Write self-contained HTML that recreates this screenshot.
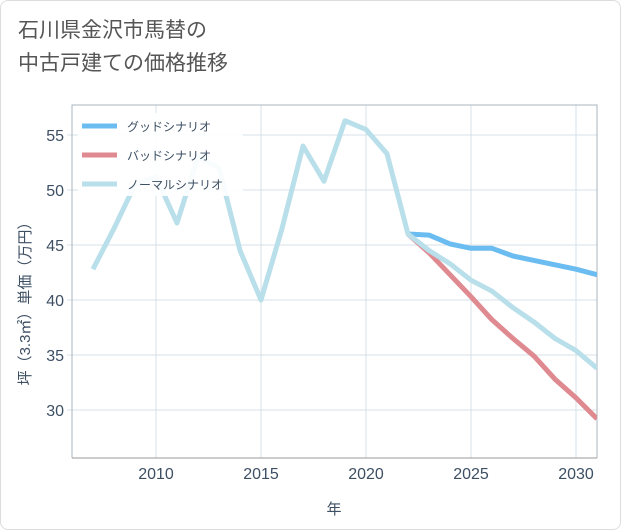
<!DOCTYPE html>
<html><head><meta charset="utf-8"><style>
html,body{margin:0;padding:0;background:#fff;}
body{width:621px;height:530px;overflow:hidden;font-family:"Liberation Sans","Noto Sans CJK JP",sans-serif;}
.card{position:absolute;left:0;top:0;width:619px;height:528px;border:1px solid #ddd;border-radius:8px;background:#fff;}
.title{position:absolute;left:18px;top:14px;font-size:21px;line-height:33px;color:#555;}
svg{position:absolute;left:0;top:0;}
</style></head><body>
<div class="card"></div>
<div class="title">石川県金沢市馬替の<br>中古戸建ての価格推移</div>
<svg id="chart" width="621" height="530"></svg>
<script>
const years=[2007,2008,2009,2010,2011,2012,2013,2014,2015,2016,2017,2018,2019,2020,2021,2022,2023,2024,2025,2026,2027,2028,2029,2030,2031];
const normal=[42.8,46.5,50.5,51.2,47,53,52,44.5,40,46.5,54,50.8,56.3,55.5,53.3,46,44.5,43.3,41.8,40.8,39.3,38,36.5,35.4,33.8];
const futureYears=[2022,2023,2024,2025,2026,2027,2028,2029,2030,2031];
const good=[46,45.9,45.1,44.7,44.7,44,43.6,43.2,42.8,42.3];
const bad=[46,44.3,42.3,40.3,38.2,36.5,34.9,32.8,31.1,29.2];
const xTicks=[2010,2015,2020,2025,2030];
const yTicks=[30,35,40,45,50,55];
const legendLabels=["グッドシナリオ","バッドシナリオ","ノーマルシナリオ"];
const NS="http://www.w3.org/2000/svg";
const svg=document.getElementById('chart');
const L=72,R=597,T=105,B=458;
const TXT='#3d4f63';
const x=v=>156+(v-2010)*21;
const y=v=>135+(55-v)*11;
function el(t,a,p){const e=document.createElementNS(NS,t);for(const k in a)e.setAttribute(k,a[k]);(p||svg).appendChild(e);return e;}
const bg=el('rect',{x:L,y:T,width:R-L,height:B-T,fill:'#fff'});


xTicks.forEach(t=>{
 const g=el('line',{x1:x(t),x2:x(t),y1:T,y2:B,stroke:'#d5e1ea','stroke-width':1});
 
 
 const tx=el('text',{x:x(t),y:479,'text-anchor':'middle','font-size':16,fill:TXT});
 tx.textContent=t;
 
 
});
yTicks.forEach(t=>{
 const g=el('line',{x1:L-5,x2:R,y1:y(t),y2:y(t),stroke:'#d5e1ea','stroke-width':1});
 
 
 const tx=el('text',{x:64,y:y(t)+6,'text-anchor':'end','font-size':16,fill:TXT});
 tx.textContent=t;
 
 
});
const frame=el('path',{d:`M${L},${B}V${T}H${R}V${B}`,fill:'none',stroke:'#aab4be','stroke-width':1});


const ax=el('line',{x1:L,x2:R,y1:B,y2:B,stroke:'#999','stroke-width':1});


const xt=el('text',{x:334,y:514,'text-anchor':'middle','font-size':15,fill:TXT});
xt.textContent='年';


const yt=el('text',{x:0,y:0,'text-anchor':'middle','font-size':15,fill:TXT,transform:'translate(30,300) rotate(-90)'});
yt.textContent='坪（3.3㎡）単価（万円）';


const clip=el('clipPath',{id:'c'});el('rect',{x:L,y:T-10,width:R-L,height:B-T+10},clip);
function line(xs,vs,color,name){
 const p=el('polyline',{points:xs.map((v,i)=>x(v)+','+y(vs[i])).join(' '),fill:'none',stroke:color,'stroke-width':5,'stroke-linejoin':'round','clip-path':'url(#c)'});
 
 
}
line(futureYears,good,'#6bbcf0','good-scenario-line');
line(futureYears,bad,'#de8a90','bad-scenario-line');
line(years,normal,'#b9dfea','normal-scenario-line');
const lb=el('rect',{x:78,y:113,width:165,height:83,fill:'#fff','fill-opacity':0.9});


const colors=['#6bbcf0','#de8a90','#b9dfea'];
legendLabels.forEach((lab,i)=>{
 const yy=126+i*29;
 const s=el('line',{x1:82,x2:117,y1:yy,y2:yy,stroke:colors[i],'stroke-width':5});
 
 
 const t=el('text',{x:127,y:yy+5,'font-size':12,fill:TXT});
 t.textContent=lab;
 
 
});
</script>
</body></html>
